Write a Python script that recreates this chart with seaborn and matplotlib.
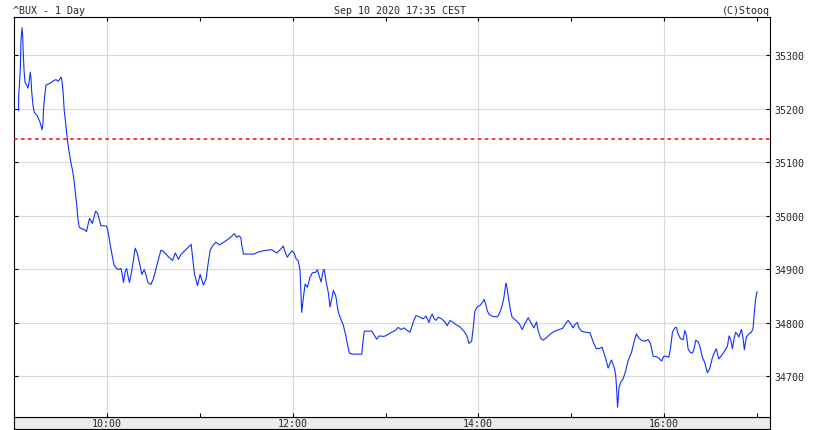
import matplotlib
matplotlib.use("Agg")
import matplotlib.dates as mdates
import matplotlib.pyplot as plt
import pandas as pd
import seaborn as sns


SESSION_START = pd.Timestamp("2020-09-10 09:00")
PREV_CLOSE = 35143

# minutes after 09:00 and index level
minutes = [
  2.7, 2.7, 3.8, 4.2, 4.9, 5.3, 5.7, 6.2, 6.8, 8.1,
  8.7, 9.6, 10.2, 10.7, 11.1, 12.0, 12.8, 14.6, 16.2, 17.1,
  17.8, 18.4, 18.8, 19.7, 20.4, 22.1, 23.6, 25.3, 26.8, 28.5,
  30.1, 30.7, 31.4, 32.2, 33.3, 34.3, 35.2, 36.5, 37.6, 38.7,
  39.3, 40.2, 41.1, 41.9, 43.6, 45.1, 46.6, 47.5, 48.6, 49.5,
  50.3, 51.1, 52.4, 53.7, 54.8, 55.9, 57.6, 59.4, 60.2, 61.3,
  62.4, 63.4, 64.5, 65.8, 67.3, 68.9, 69.7, 70.5, 71.6, 72.5,
  73.6, 74.4, 75.3, 76.6, 78.1, 79.6, 80.9, 82.4, 83.9, 85.0,
  86.3, 88.2, 89.9, 92.1, 94.7, 96.4, 99.2, 102.2, 104.1, 106.1,
  107.6, 110.4, 114.3, 115.1, 116.4, 118.4, 120.1, 122.2, 124.0, 125.1,
  126.6, 128.3, 130.3, 132.6, 135.2, 138.4, 142.3, 143.8, 145.1, 146.4,
  147.1, 148.1, 155.0, 157.8, 161.0, 164.9, 166.4, 169.7, 171.8, 173.9,
  175.0, 176.5, 177.8, 179.6, 180.9, 182.2, 183.6, 184.7, 185.8, 186.9,
  188.0, 189.5, 191.2, 192.7, 194.9, 195.9, 197.0, 198.3, 199.8, 200.4,
  201.5, 203.0, 204.1, 205.2, 206.3, 207.8, 209.5, 211.0, 212.7, 214.3,
  215.3, 216.6, 218.2, 224.6, 225.3, 226.3, 231.1, 232.6, 234.3, 236.0,
  239.0, 241.2, 243.4, 246.1, 248.3, 250.0, 252.1, 254.1, 255.8, 257.3,
  258.6, 259.7, 261.6, 264.4, 266.2, 268.1, 269.2, 270.2, 271.5, 272.6,
  274.1, 276.3, 278.4, 279.9, 281.7, 283.4, 285.6, 288.1, 290.7, 292.5,
  294.0, 295.7, 296.7, 297.8, 299.3, 301.1, 302.8, 303.8, 304.8, 305.8,
  307.1, 309.7, 312.5, 314.0, 315.5, 316.6, 317.9, 318.7, 319.8, 320.9,
  321.9, 324.3, 326.5, 328.4, 330.2, 332.3, 333.8, 336.0, 337.7, 338.7,
  340.3, 342.0, 344.2, 346.8, 349.5, 352.3, 354.5, 356.5, 358.1, 359.7,
  361.4, 362.5, 364.0, 365.2, 366.8, 368.9, 372.2, 373.6, 374.7, 376.5,
  378.6, 380.1, 381.2, 382.5, 384.0, 385.1, 386.2, 387.7, 388.8, 389.4,
  390.1, 391.1, 392.2, 393.7, 395.4, 396.9, 399.1, 400.8, 402.3, 403.8,
  405.6, 407.7, 409.8, 411.4, 413.1, 415.3, 417.0, 418.5, 420.0, 421.7,
  423.2, 424.3, 425.6, 427.1, 428.2, 429.2, 430.8, 432.5, 433.6, 434.7,
  435.7, 437.2, 438.5, 439.6, 440.7, 442.2, 443.3, 445.0, 446.5, 448.2,
  449.7, 451.5, 453.0, 454.0, 455.5, 457.3, 459.4, 461.2, 462.2, 463.3,
  464.4, 465.4, 466.5, 467.6, 468.5, 469.6, 470.2, 471.2, 472.1, 473.4,
  475.1, 476.7, 477.7, 478.4, 479.3, 480.3,
]

prices = [
  35196, 35221, 35274, 35326, 35351, 35336, 35302, 35271, 35249, 35243,
  35238, 35252, 35268, 35256, 35233, 35205, 35193, 35187, 35177, 35169,
  35160, 35171, 35199, 35227, 35244, 35246, 35248, 35252, 35254, 35251,
  35259, 35252, 35233, 35196, 35168, 35140, 35122, 35099, 35084, 35062,
  35044, 35022, 34993, 34978, 34975, 34974, 34970, 34982, 34995, 34990,
  34985, 34993, 35008, 35005, 34993, 34981, 34981, 34980, 34975, 34956,
  34938, 34922, 34907, 34902, 34899, 34901, 34890, 34875, 34895, 34901,
  34885, 34875, 34888, 34910, 34939, 34928, 34910, 34890, 34899, 34890,
  34875, 34871, 34882, 34907, 34935, 34933, 34924, 34916, 34930, 34918,
  34927, 34935, 34946, 34925, 34891, 34869, 34890, 34870, 34882, 34907,
  34935, 34944, 34950, 34945, 34950, 34956, 34966, 34959, 34962, 34959,
  34944, 34928, 34928, 34932, 34934, 34936, 34936, 34930, 34936, 34943,
  34932, 34922, 34928, 34934, 34930, 34919, 34915, 34898, 34819, 34847,
  34872, 34866, 34885, 34893, 34894, 34899, 34888, 34876, 34898, 34899,
  34878, 34856, 34829, 34844, 34860, 34850, 34819, 34807, 34795, 34776,
  34761, 34743, 34741, 34741, 34761, 34784, 34784, 34777, 34769, 34775,
  34774, 34777, 34781, 34785, 34791, 34787, 34790, 34785, 34782, 34795,
  34806, 34813, 34811, 34807, 34812, 34800, 34810, 34816, 34807, 34804,
  34810, 34807, 34801, 34794, 34804, 34801, 34796, 34792, 34784, 34776,
  34761, 34765, 34789, 34821, 34829, 34832, 34838, 34843, 34835, 34822,
  34815, 34811, 34811, 34819, 34832, 34847, 34874, 34863, 34841, 34822,
  34810, 34804, 34798, 34787, 34798, 34809, 34801, 34790, 34801, 34785,
  34771, 34767, 34772, 34779, 34784, 34787, 34789, 34798, 34804, 34798,
  34790, 34796, 34800, 34790, 34784, 34782, 34781, 34770, 34761, 34751,
  34752, 34754, 34744, 34732, 34715, 34723, 34730, 34718, 34704, 34681,
  34642, 34679, 34689, 34695, 34710, 34729, 34744, 34764, 34779, 34771,
  34767, 34765, 34768, 34761, 34737, 34736, 34733, 34728, 34737, 34737,
  34735, 34751, 34782, 34790, 34791, 34779, 34770, 34768, 34785, 34776,
  34751, 34744, 34743, 34751, 34767, 34764, 34756, 34735, 34725, 34706,
  34714, 34735, 34746, 34751, 34732, 34738, 34747, 34756, 34775, 34768,
  34751, 34769, 34782, 34778, 34773, 34782, 34787, 34773, 34749, 34773,
  34779, 34782, 34789, 34813, 34841, 34858,
]

y_ticks = [34700, 34800, 34900, 35000, 35100, 35200, 35300]
label_hours = [10, 12, 14, 16]
tick_hours = list(range(9, 18))

title_left = "^BUX - 1 Day"
title_mid = "Sep 10 2020 17:35 CEST"
title_right = "(C)Stooq"

W, H = 814, 431


def main() -> None:
  sns.set_style("white")
  plt.rcParams["font.family"] = ["DejaVu Sans Mono"]
  plt.rcParams["font.size"] = 7.2

  df = pd.DataFrame({
    "time": SESSION_START + pd.to_timedelta(minutes, unit="m"),
    "price": prices,
  })

  fig = plt.figure(figsize=(W / 100, H / 100), dpi=100)
  fig.patch.set_facecolor("white")

  # grey strip under the plot that holds the time labels
  band = fig.add_axes([14 / W, 1 / H, 756 / W, 12 / H])
  band.set_facecolor("#ebebeb")
  band.set_xticks([])
  band.set_yticks([])
  for sp in band.spines.values():
    sp.set_color("black")
    sp.set_linewidth(0.8)
  band.set_zorder(0)

  ax = fig.add_axes([14 / W, 13 / H, 756 / W, 400 / H])
  ax.set_zorder(1)
  ax.set_facecolor("white")

  sns.lineplot(data=df, x="time", y="price", sort=False, estimator=None,
               color="#1030ff", linewidth=0.8, ax=ax)
  # previous close
  ax.axhline(PREV_CLOSE, color="red", linewidth=1.1,
             linestyle=(0, (2.3, 2.3)), zorder=3)

  ax.set_xlim(SESSION_START - pd.Timedelta(minutes=0.3),
              SESSION_START + pd.Timedelta(minutes=488.7))
  ax.set_ylim(34623.5, 35371)

  ax.xaxis.set_major_locator(mdates.HourLocator(byhour=label_hours))
  ax.xaxis.set_minor_locator(mdates.HourLocator(byhour=tick_hours))
  ax.xaxis.set_major_formatter(mdates.DateFormatter("%H:%M"))
  ax.set_yticks(y_ticks)
  ax.set_yticklabels([str(v) for v in y_ticks])

  ax.set_axisbelow(True)
  ax.grid(True, which="major", color="#d9d9d9", linewidth=0.8)
  ax.tick_params(axis="x", which="both", direction="in", top=True, bottom=True,
                 length=3, width=0.8, color="black", pad=0.6, labelsize=7.2)
  ax.tick_params(axis="y", which="both", direction="in", left=True, right=True,
                 labelleft=False, labelright=True, length=3, width=0.8,
                 color="black", pad=3.3, labelsize=7.2)
  ax.set_xlabel("")
  ax.set_ylabel("")
  for sp in ax.spines.values():
    sp.set_visible(True)
    sp.set_color("black")
    sp.set_linewidth(0.8)

  base = 1 - 14 / H
  fig.text(13 / W, base, title_left, ha="left", va="baseline", fontsize=7.2)
  fig.text(399.5 / W, base, title_mid, ha="center", va="baseline", fontsize=7.2)
  fig.text(770 / W, base, title_right, ha="right", va="baseline", fontsize=7.2)

  fig.savefig("out.png", dpi=100)
  plt.close(fig)


if __name__ == "__main__":
  main()
